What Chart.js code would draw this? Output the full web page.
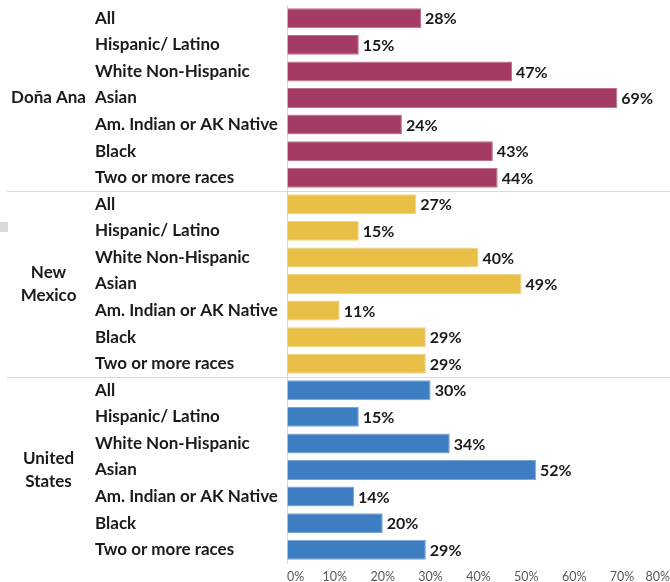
<!DOCTYPE html>
<html>
<head>
<meta charset="utf-8">
<script src="https://cdn.jsdelivr.net/npm/chart.js@4"></script>
<style>
  html, body { margin: 0; padding: 0; background: #ffffff; overflow: hidden; }
  #wrap { position: relative; width: 670px; height: 582px; }
</style>
</head>
<body>
<div id="wrap"><canvas id="c"></canvas></div>
<script>
// ---- data ----
const groups = [["Doña Ana"], ["New", "Mexico"], ["United", "States"]];
const categories = ["All", "Hispanic/ Latino", "White Non-Hispanic", "Asian",
                    "Am. Indian or AK Native", "Black", "Two or more races"];
const donaAna    = [28, 15, 47, 69, 24, 43, 44];
const newMexico  = [27, 15, 40, 49, 11, 29, 29];
const unitedStates = [30, 15, 34, 52, 14, 20, 29];
const xTicks = [0, 10, 20, 30, 40, 50, 60, 70, 80];
const groupColors = ["#A33B65", "#E8BF47", "#3D7DC1"];
const groupBorders = ["#C26F90", "#F0D685", "#7BA6D6"];

// ---- build rows ----
const seriesByGroup = [donaAna, newMexico, unitedStates];
const rowLabels = [], rowValues = [], rowColors = [], rowBorders = [], groupRowLabels = [];
seriesByGroup.forEach((vals, g) => {
  vals.forEach((v, i) => {
    rowLabels.push(categories[i]);
    rowValues.push(v);
    rowColors.push(groupColors[g]);
    rowBorders.push(groupBorders[g]);
    groupRowLabels.push(i === 3 ? groups[g] : "");
  });
});

const FONT = "Lato, 'Open Sans', sans-serif";
const SEP = "#d9d9d9";
const sepColor = ctx => (ctx.index > 0 && ctx.index % categories.length === 0) ? SEP : "rgba(0,0,0,0)";
const noVPad = s => { s.paddingTop = 0; s.paddingBottom = 0; };

const valueLabels = {
  id: "valueLabels",
  afterDatasetsDraw(chart) {
    const ctx = chart.ctx;
    const meta = chart.getDatasetMeta(0);
    ctx.save();
    ctx.font = "bold 16px " + FONT;
    ctx.fillStyle = "#1a1a1a";
    ctx.textAlign = "left";
    ctx.textBaseline = "middle";
    meta.data.forEach((bar, i) => {
      ctx.fillText(chart.data.datasets[0].data[i] + "%", bar.x + 4, bar.y + 1);
    });
    ctx.restore();
  }
};

const edgeMark = {
  id: "edgeMark",
  beforeDraw(chart) {
    const ctx = chart.ctx;
    ctx.save();
    ctx.fillStyle = "#d9d9d9";
    ctx.fillRect(0, 222, 8, 10);
    ctx.restore();
  }
};

new Chart(document.getElementById("c"), {
  type: "bar",
  data: {
    labels: rowLabels,
    datasets: [{
      data: rowValues,
      backgroundColor: rowColors,
      borderColor: rowBorders,
      borderWidth: 1,
      barPercentage: 0.75,
      categoryPercentage: 1.0
    }]
  },
  options: {
    indexAxis: "y",
    responsive: true,
    maintainAspectRatio: false,
    animation: false,
    layout: { padding: { top: 5, left: 0, right: 0, bottom: 0 } },
    plugins: { legend: { display: false }, tooltip: { enabled: false } },
    scales: {
      x: {
        type: "linear",
        min: 0, max: 80,
        afterBuildTicks: s => { s.ticks = xTicks.map(v => ({ value: v })); },
        grid: { display: true, drawOnChartArea: false, drawTicks: true, tickLength: 6, color: "rgba(0,0,0,0)" },
        border: { display: false },
        ticks: {
          align: "inner",
          padding: 0,
          color: "#595959",
          font: { family: FONT, size: 12.5 },
          callback: v => v + "%"
        },
        afterFit: s => { s.height = 19; s.paddingLeft = 0; s.paddingRight = 0; }
      },
      y: {
        type: "category",
        position: "left",
        weight: 0,
        offset: true,
        grid: { offset: true, color: sepColor, drawTicks: true, tickLength: 192, lineWidth: 1 },
        border: { display: true, color: SEP },
        ticks: {
          autoSkip: false,
          crossAlign: "far",
          padding: 0,
          color: "#1a1a1a",
          font: { family: FONT, size: 17, weight: "bold" }
        },
        afterFit: s => { s.width = 192; noVPad(s); }
      },
      yGroup: {
        type: "category",
        position: "left",
        weight: 10,
        labels: groupRowLabels,
        offset: true,
        grid: { offset: true, color: sepColor, drawOnChartArea: false, drawTicks: true, tickLength: 88, lineWidth: 1 },
        border: { display: false },
        ticks: {
          autoSkip: false,
          crossAlign: "center",
          padding: -79,
          color: "#1a1a1a",
          font: { family: FONT, size: 17, weight: "bold", lineHeight: 1.35 }
        },
        afterFit: s => { s.width = 95; noVPad(s); }
      }
    }
  },
  plugins: [valueLabels, edgeMark]
});
</script>
</body>
</html>
